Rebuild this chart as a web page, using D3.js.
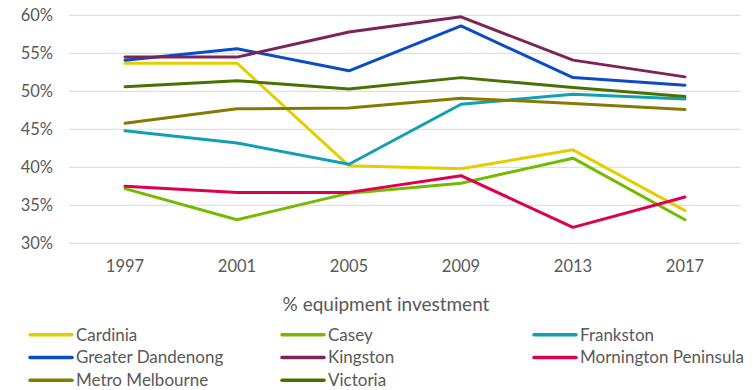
<!DOCTYPE html>
<html>
<head>
<meta charset="utf-8">
<script src="https://cdn.jsdelivr.net/npm/d3@7"></script>
<style>
  html, body { margin: 0; padding: 0; background: #fff; }
  svg text { font-family: Lato, "Open Sans", sans-serif; fill: #595959; }
</style>
</head>
<body>
<svg id="chart" width="753" height="390"></svg>
<script>
// Survey years along the x axis
const years = ["1997", "2001", "2005", "2009", "2013", "2017"];

// Share of equipment investment (%) by region
const cardinia          = [53.7, 53.7, 40.2, 39.8, 42.3, 34.3];
const casey             = [37.2, 33.1, 36.6, 37.9, 41.2, 33.1];
const frankston         = [44.8, 43.2, 40.4, 48.3, 49.6, 49.0];
const greaterDandenong  = [54.1, 55.6, 52.7, 58.6, 51.8, 50.8];
const kingston          = [54.5, 54.5, 57.8, 59.8, 54.1, 51.9];
const morningtonPen     = [37.5, 36.7, 36.7, 38.9, 32.1, 36.1];
const metroMelbourne    = [45.8, 47.7, 47.8, 49.1, 48.4, 47.6];
const victoria          = [50.6, 51.4, 50.3, 51.8, 50.5, 49.3];

const yTicks = [30, 35, 40, 45, 50, 55, 60];
const axisTitle = "% equipment investment";

const series = [
  { name: "Cardinia",             values: cardinia,         color: "#E3CF00" },
  { name: "Casey",                values: casey,            color: "#74BA00" },
  { name: "Frankston",            values: frankston,        color: "#11A0B2" },
  { name: "Greater Dandenong",    values: greaterDandenong, color: "#0A4CC6" },
  { name: "Kingston",             values: kingston,         color: "#7A2457" },
  { name: "Mornington Peninsula", values: morningtonPen,    color: "#DE0050" },
  { name: "Metro Melbourne",      values: metroMelbourne,   color: "#867A00" },
  { name: "Victoria",             values: victoria,         color: "#487100" }
];

const svg = d3.select("#chart");

const x = d3.scaleBand().domain(years).range([69, 741]);
const y = d3.scaleLinear().domain([30, 60]).range([243.3, 15.3]);

// Horizontal gridlines
svg.append("g")
  .selectAll("line")
  .data(yTicks)
  .join("line")
  .attr("x1", x.range()[0])
  .attr("x2", x.range()[1])
  .attr("y1", d => y(d))
  .attr("y2", d => y(d))
  .attr("stroke", "#d9d9d9")
  .attr("stroke-width", 1);

// Y axis labels
const yAxis = svg.append("g")
  .attr("transform", "translate(56,0)")
  .call(d3.axisLeft(y).tickValues(yTicks).tickFormat(d => d + "%").tickSize(0).tickPadding(3));
yAxis.select(".domain").remove();
yAxis.selectAll("text")
  .style("font-size", "16.5px")
  .attr("fill", "#595959");

// X axis labels
const xAxis = svg.append("g")
  .attr("transform", "translate(0,257)")
  .call(d3.axisBottom(x).tickSize(0).tickPadding(3));
xAxis.select(".domain").remove();
xAxis.selectAll("text")
  .style("font-size", "16.5px")
  .attr("fill", "#595959");

// Axis title
svg.append("text")
  .attr("x", 386)
  .attr("y", 311)
  .attr("text-anchor", "middle")
  .style("font-size", "19px")
  .text(axisTitle);

// Series lines
const line = d3.line()
  .x((d, i) => x(years[i]) + x.bandwidth() / 2)
  .y(d => y(d));

svg.append("g")
  .selectAll("path")
  .data(series)
  .join("path")
  .attr("d", d => line(d.values))
  .attr("fill", "none")
  .attr("stroke", d => d.color)
  .attr("stroke-width", 3)
  .attr("stroke-linejoin", "round")
  .attr("stroke-linecap", "round");

// Legend: three columns, filled row by row
const colX = [30, 282, 534];
const rowY = [334.7, 357.5, 380.2];
const legend = svg.append("g")
  .selectAll("g")
  .data(series)
  .join("g")
  .attr("transform", (d, i) => `translate(${colX[i % 3]},${rowY[Math.floor(i / 3)]})`);

legend.append("line")
  .attr("x1", 0).attr("x2", 42)
  .attr("y1", 0).attr("y2", 0)
  .attr("stroke", d => d.color)
  .attr("stroke-width", 3.5)
  .attr("stroke-linecap", "round");

legend.append("text")
  .attr("x", 46)
  .attr("y", 0)
  .attr("dy", "0.35em")
  .style("font-size", "17px")
  .text(d => d.name);
</script>
</body>
</html>
